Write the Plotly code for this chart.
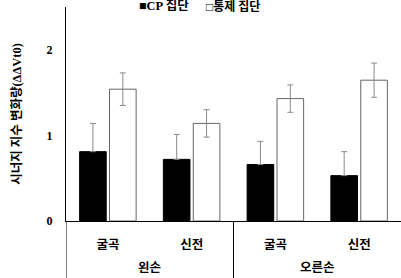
import plotly.graph_objects as go

hands = ["왼손", "왼손", "오른손", "오른손"]
motions = ["굴곡", "신전", "굴곡", "신전"]
cats = [f"{h}-{m}" for h, m in zip(hands, motions)]
group_labels = ["왼손", "오른손"]
cp_vals = [0.81, 0.72, 0.66, 0.53]
cp_err = [0.33, 0.29, 0.27, 0.28]
ctrl_vals = [1.54, 1.14, 1.43, 1.645]
ctrl_err = [0.19, 0.16, 0.16, 0.20]
y_ticks = [0, 1, 2]

font_fam = "Liberation Serif, Noto Sans CJK KR, serif"
plot_h = 278 - 7 - 57

fig = go.Figure()
fig.add_trace(go.Bar(
    x=cats, y=cp_vals, name="CP 집단",
    marker=dict(color="black", line=dict(color="black", width=1)),
    error_y=dict(type="data", array=cp_err, arrayminus=[0]*4, symmetric=False,
                 color="#8a8a8a", thickness=1, width=3),
    showlegend=False,
))
fig.add_trace(go.Bar(
    x=cats, y=ctrl_vals, name="통제 집단",
    marker=dict(color="white", line=dict(color="#666666", width=1)),
    error_y=dict(type="data", array=ctrl_err, color="#8a8a8a", thickness=1, width=3),
    showlegend=False,
))

annotations = [
    dict(text="<b>■CP 집단</b>", xref="paper", yref="paper",
         x=(137 - 66) / 335, xanchor="left", y=1, yanchor="middle", yshift=1,
         showarrow=False, font=dict(size=12.5, color="black")),
    dict(text="<b>□통제 집단</b>", xref="paper", yref="paper",
         x=(204 - 66) / 335, xanchor="left", y=1, yanchor="middle", yshift=1,
         showarrow=False, font=dict(size=12, color="black")),
]
for i, g in enumerate(group_labels):
    annotations.append(dict(
        text=f"<b>{g}</b>", xref="x", yref="paper", x=2 * i + 0.5, y=0,
        yanchor="middle", yshift=-47, showarrow=False,
        font=dict(size=12.5, color="black"),
    ))

shapes = []
for xb in [-0.5, 1.5]:
    shapes.append(dict(type="line", xref="x", yref="paper", x0=xb, x1=xb,
                       y0=0, y1=-60 / plot_h, line=dict(color="black", width=1)))

fig.update_layout(
    width=401, height=278,
    margin=dict(l=66, r=0, t=7, b=57),
    paper_bgcolor="white", plot_bgcolor="white",
    barmode="group", bargap=0.286, bargroupgap=0.11,
    font=dict(family=font_fam, size=12, color="black"),
    annotations=annotations, shapes=shapes,
)
fig.update_yaxes(
    range=[0, 2.5], tickvals=y_ticks, ticktext=[f"<b>{v}</b>" for v in y_ticks],
    showgrid=False, zeroline=False, showline=True, linecolor="black", linewidth=1,
    ticks="", ticklabelstandoff=10, tickfont=dict(size=12),
    title=dict(text="<b>시너지 지수 변화량(ΔΔVt0)</b>", font=dict(size=12.5), standoff=22),
)
fig.update_xaxes(
    range=[-0.5, 3.5],
    showgrid=False, showline=True, linecolor="black", linewidth=1,
    ticks="", tickvals=cats, ticktext=[f"<b>{m}</b>" for m in motions],
    tickfont=dict(size=12.5), ticklabelstandoff=12,
)

fig.write_html("out.html")
